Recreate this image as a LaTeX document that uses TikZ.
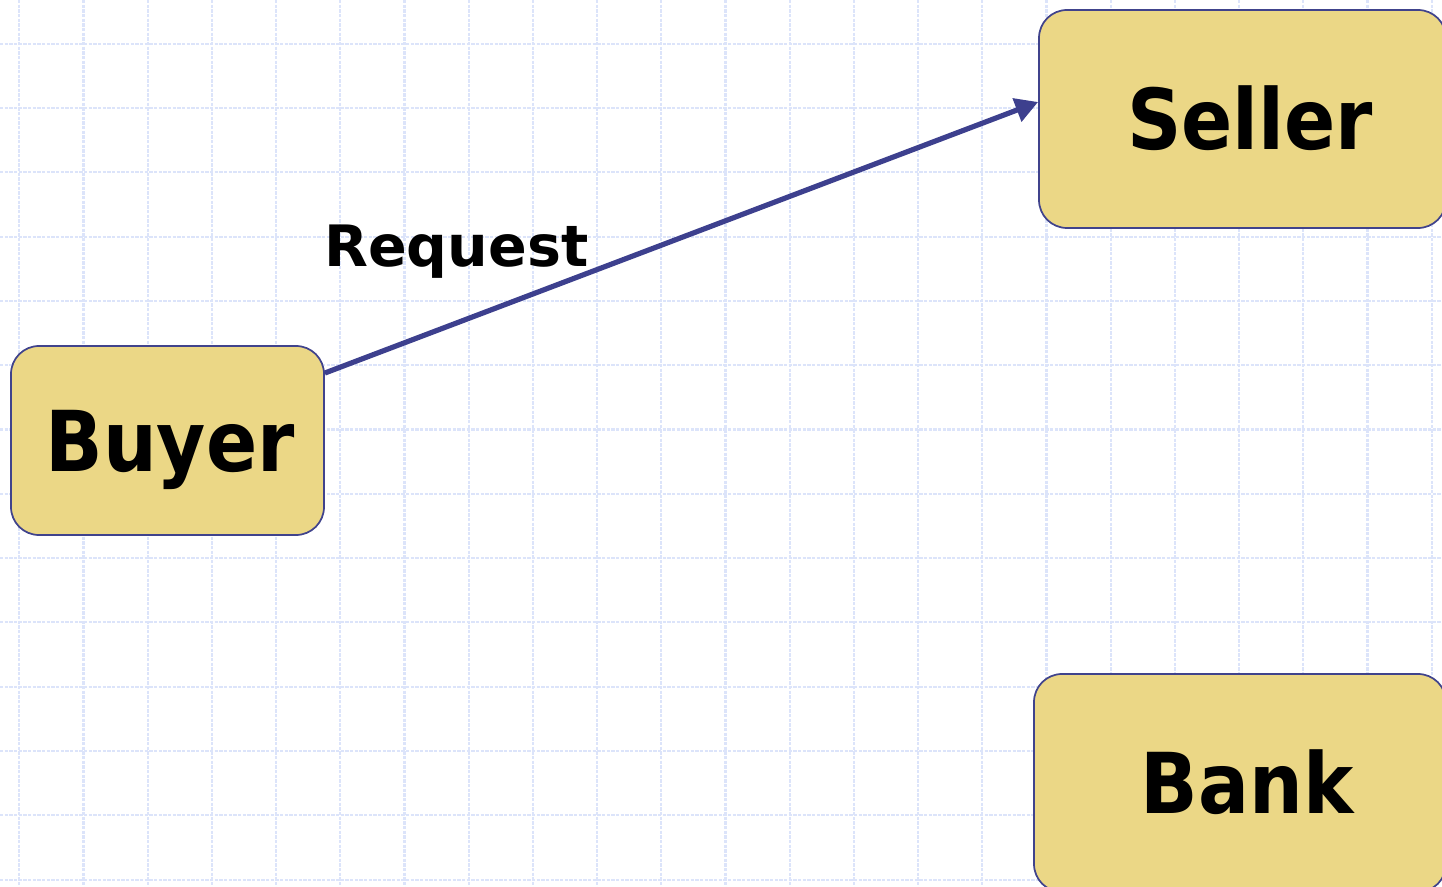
\documentclass[tikz,border=0pt]{standalone}
\usepackage{fontspec}
\setmainfont{DejaVu Sans}
\newfontfamily\boxfont{DejaVu Sans Condensed}
\usetikzlibrary{arrows.meta}

\definecolor{gridblue}{RGB}{220,228,250}
\definecolor{boxfill}{RGB}{235,215,134}
\definecolor{boxline}{RGB}{64,67,140}
\definecolor{arrowblue}{RGB}{61,64,142}

\begin{document}
\begin{tikzpicture}[x=0.75pt,y=-0.75pt,
  gridline/.style={draw=gridblue, line width=1.6pt, dash pattern=on 2.5pt off 1pt},
  party/.style={draw=boxline, line width=1.3pt, fill=boxfill, rounded corners=21pt,
    inner sep=0pt, text height=46pt, text depth=0pt,
    font=\boxfont\bfseries\fontsize{63}{63}\selectfont},
  flow/.style={draw=arrowblue, line width=3.9pt, -{Triangle[length=17pt,width=18pt]}},
  msg/.style={inner sep=0pt, font=\bfseries\fontsize{42.8}{42.8}\selectfont}]

\useasboundingbox (0,0) rectangle (1442,887);
\clip (0,0) rectangle (1442,887);

% squared paper background
\foreach \i in {0,...,22}
  \draw[gridline] ({19.3+64.2*\i},0) -- ++(0,887);
\foreach \j in {0,...,13}
  \draw[gridline] (0,{43.7+64.3*\j}) -- ++(1442,0);

% parties
\node[party, minimum width=234.75pt, minimum height=141.75pt] (buyer)
  at (167.5,440.5) {\hspace*{3.75pt}Buyer};
\node[party, minimum width=305.25pt, minimum height=163.5pt] (seller)
  at (1242.5,119) {\hspace*{11.25pt}Seller};
\node[party, minimum width=309pt, minimum height=163.5pt] (bank)
  at (1240,783) {\hspace*{10.5pt}Bank};

% request message
\draw[flow] ([yshift=50.6pt]buyer.east) -- ([yshift=12.75pt]seller.west);
\node[msg, anchor=base west] (request) at (324,267) {Request};

\end{tikzpicture}
\end{document}
